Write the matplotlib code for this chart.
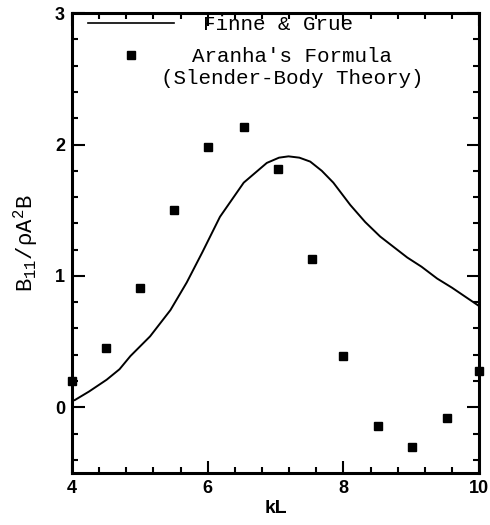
import numpy as np
import matplotlib.pyplot as plt
from matplotlib.lines import Line2D
from matplotlib.ticker import MultipleLocator

# Finne & Grue curve
kl_curve = [4.0, 4.04, 4.25, 4.51, 4.70, 4.86, 5.15, 5.45, 5.69, 5.92,
            6.18, 6.53, 6.87, 7.05, 7.19, 7.35, 7.51, 7.68, 7.85, 8.10,
            8.32, 8.54, 8.74, 8.94, 9.15, 9.38, 9.60, 9.80, 10.0]
b11_curve = [0.05, 0.055, 0.12, 0.21, 0.29, 0.39, 0.54, 0.74, 0.95, 1.18,
             1.45, 1.71, 1.86, 1.90, 1.91, 1.90, 1.87, 1.80, 1.71, 1.54,
             1.41, 1.30, 1.22, 1.14, 1.07, 0.98, 0.91, 0.84, 0.77]

# Aranha's formula (slender-body theory)
kl_pts = [4.0, 4.5, 5.0, 5.5, 6.0, 6.54, 7.04, 7.54, 8.0, 8.51, 9.01, 9.52, 10.0]
b11_pts = [0.20, 0.455, 0.91, 1.50, 1.98, 2.13, 1.81, 1.13, 0.39, -0.14, -0.30, -0.08, 0.28]


def main():
    plt.rcParams["mathtext.fontset"] = "custom"
    plt.rcParams["mathtext.rm"] = "Liberation Mono"
    plt.rcParams["mathtext.default"] = "rm"

    fig = plt.figure(figsize=(4.9, 5.25), dpi=100)
    ax = fig.add_axes([0.147, 0.099, 0.831, 0.876])

    ax.plot(kl_curve, b11_curve, color="black", lw=1.4)
    ax.plot(kl_pts, b11_pts, linestyle="none", marker="s", ms=6.0,
            color="black", clip_on=False)

    ax.set_xlim(4, 10)
    ax.set_ylim(-0.5, 3)
    ax.xaxis.set_major_locator(MultipleLocator(2))
    ax.xaxis.set_minor_locator(MultipleLocator(0.4))
    ax.yaxis.set_major_locator(MultipleLocator(1))
    ax.yaxis.set_minor_locator(MultipleLocator(0.2))
    ax.tick_params(which="both", direction="in", top=True, right=True, width=1.5)
    ax.tick_params(which="major", length=9, labelsize=13, pad=5)
    ax.tick_params(which="minor", length=4)
    for lab in ax.get_xticklabels() + ax.get_yticklabels():
        lab.set_fontweight("bold")
        lab.set_family("Liberation Sans")
    for sp in ax.spines.values():
        sp.set_linewidth(2.2)

    ax.set_xlabel("kL", fontsize=14, fontweight="bold", family="Liberation Sans",
                  labelpad=2)
    ax.set_ylabel(r"B$_{11}$/ρA$^{2}$B", fontsize=16, family="Liberation Mono",
                  labelpad=11)

    mono = {"family": "Liberation Mono", "size": 15}
    h1 = [Line2D([], [], color="black", lw=1.2)]
    leg1 = ax.legend(h1, ["Finne & Grue"], loc="upper left",
                     bbox_to_anchor=(0.04, 0.995), frameon=False, prop=mono,
                     handlelength=4.1, handletextpad=1.4, borderpad=0,
                     borderaxespad=0)
    ax.add_artist(leg1)
    h2 = [Line2D([], [], linestyle="none", marker="s", ms=6.0, color="black")]
    leg2 = ax.legend(h2, ["Aranha's Formula\n(Slender-Body Theory)"],
                     loc="upper left", bbox_to_anchor=(0.04, 0.926),
                     frameon=False, prop=mono, handlelength=4.1,
                     handleheight=0.8, handletextpad=-0.6, borderpad=0,
                     borderaxespad=0)
    for t in leg2.get_texts():
        t.set_multialignment("center")
    # keep the marker level with the first line of the two-line label
    leg2._legend_handle_box.get_children()[0].get_children()[0].align = "top"

    fig.savefig("out.png", dpi=100)


if __name__ == "__main__":
    main()
